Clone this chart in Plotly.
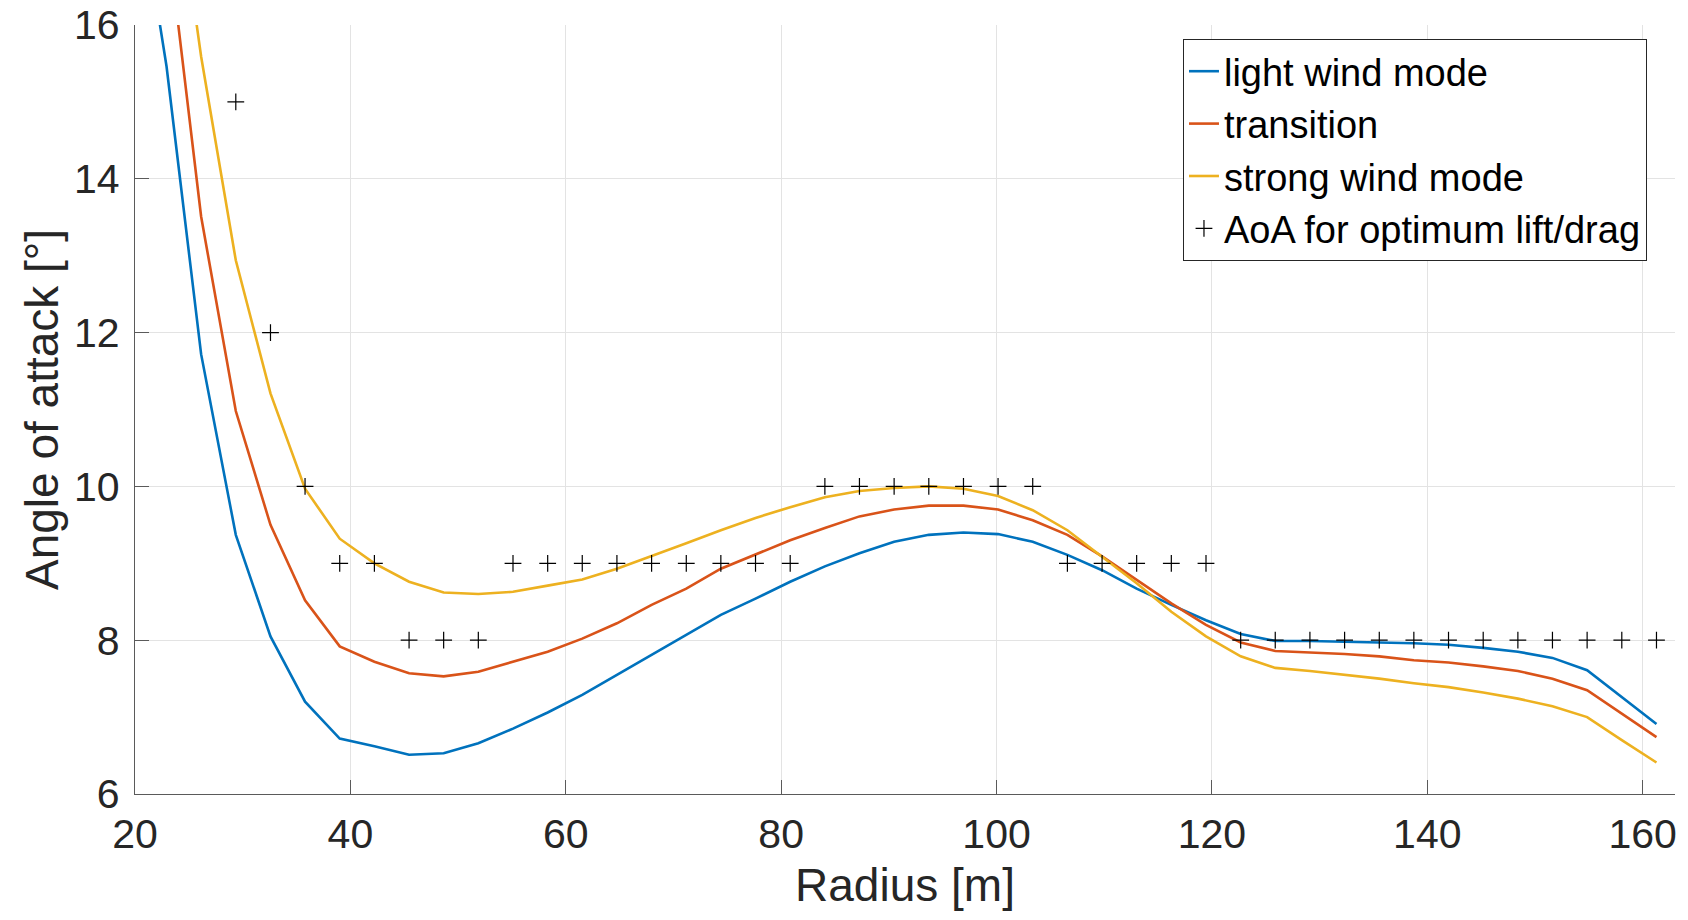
import plotly.graph_objects as go

# Radius grid of the computed curves [m]
radius = [19.72, 22.93, 26.14, 29.36, 32.58, 35.79, 39.01, 42.23, 45.45, 48.66,
          51.88, 55.10, 58.32, 61.53, 64.75, 67.97, 71.19, 74.40, 77.62, 80.84,
          84.06, 87.27, 90.49, 93.71, 96.93, 100.14, 103.36, 106.58, 109.80, 113.01,
          116.23, 119.45, 122.67, 125.88, 129.10, 132.32, 135.54, 138.75, 141.97, 145.19,
          148.41, 151.62, 154.84, 158.06, 161.28]

light_wind = [18.3, 15.46, 11.72, 9.37, 8.05, 7.20, 6.72, 6.62, 6.51, 6.53,
              6.66, 6.85, 7.06, 7.29, 7.55, 7.81, 8.07, 8.33, 8.54, 8.76,
              8.96, 9.13, 9.28, 9.37, 9.40, 9.38, 9.28, 9.11, 8.91, 8.67,
              8.46, 8.26, 8.08, 7.99, 7.99, 7.98, 7.97, 7.96, 7.94, 7.90,
              7.85, 7.77, 7.61, 7.26, 6.91]

transition = [19.5, 17.28, 13.51, 10.98, 9.50, 8.52, 7.92, 7.72, 7.57, 7.53,
              7.59, 7.72, 7.85, 8.02, 8.22, 8.46, 8.67, 8.93, 9.11, 9.30,
              9.46, 9.61, 9.70, 9.75, 9.75, 9.70, 9.56, 9.37, 9.09, 8.78,
              8.48, 8.20, 7.97, 7.86, 7.84, 7.82, 7.79, 7.74, 7.71, 7.66,
              7.60, 7.50, 7.35, 7.05, 6.74]

strong_wind = [21.5, 18.8, 15.59, 12.94, 11.21, 9.97, 9.32, 9.00, 8.76, 8.62,
               8.60, 8.63, 8.71, 8.79, 8.93, 9.09, 9.26, 9.43, 9.59, 9.73,
               9.86, 9.94, 9.98, 10.00, 9.97, 9.875, 9.69, 9.43, 9.09, 8.74,
               8.37, 8.05, 7.79, 7.64, 7.60, 7.55, 7.50, 7.44, 7.39, 7.32,
               7.24, 7.14, 7.00, 6.70, 6.41]

# Angle of attack for optimum lift/drag at each blade section
aoa_radius = [29.36, 32.58, 35.79, 39.01, 42.23, 45.45, 48.66, 51.88, 55.10, 58.32,
              61.53, 64.75, 67.97, 71.19, 74.40, 77.62, 80.84, 84.06, 87.27, 90.49,
              93.71, 96.93, 100.14, 103.36, 106.58, 109.80, 113.01, 116.23, 119.45, 122.67,
              125.88, 129.10, 132.32, 135.54, 138.75, 141.97, 145.19, 148.41, 151.62, 154.84,
              158.06, 161.28]
aoa_opt = [15, 12, 10, 9, 9, 8, 8, 8, 9, 9,
           9, 9, 9, 9, 9, 9, 9, 10, 10, 10,
           10, 10, 10, 10, 9, 9, 9, 9, 9, 8,
           8, 8, 8, 8, 8, 8, 8, 8, 8, 8,
           8, 8]

x_ticks = [20, 40, 60, 80, 100, 120, 140, 160]
y_ticks = [6, 8, 10, 12, 14, 16]

FONT = "Liberation Sans, Arial, Helvetica, sans-serif"
TXT = "#262626"

fig = go.Figure()
for name, vals, col in [("light wind mode", light_wind, "#0072BD"),
                        ("transition", transition, "#D95319"),
                        ("strong wind mode", strong_wind, "#EDB120")]:
    fig.add_trace(go.Scatter(x=radius, y=vals, mode="lines", name=name,
                             line=dict(color=col, width=2.6)))

fig.add_trace(go.Scatter(x=aoa_radius, y=aoa_opt, mode="markers",
                         name="AoA for optimum lift/drag",
                         marker=dict(symbol="cross-thin", size=12, color="black",
                                     line=dict(color="black", width=1.2))))

axis_common = dict(showgrid=True, gridcolor="#e3e3e3", gridwidth=1,
                   showline=True, linecolor="#5a5a5a", linewidth=1.3,
                   ticks="inside", ticklen=14, tickwidth=1.3, tickcolor="#5a5a5a",
                   tickfont=dict(family=FONT, size=41, color=TXT),
                   zeroline=False, mirror=False, automargin=False)

fig.update_xaxes(range=[20, 163], tickvals=x_ticks,
                 title=dict(text="Radius [m]", font=dict(family=FONT, size=46, color=TXT),
                            standoff=12),
                 ticklabelstandoff=4, **axis_common)
fig.update_yaxes(range=[6, 16], tickvals=y_ticks,
                 title=dict(text="Angle of attack [°]", font=dict(family=FONT, size=46, color=TXT),
                            standoff=0),
                 ticklabelstandoff=6, **axis_common)

fig.update_layout(
    width=1688, height=920,
    margin=dict(l=135, r=13, t=25, b=126),
    plot_bgcolor="white", paper_bgcolor="white",
    font=dict(family=FONT, color=TXT),
    legend=dict(x=0.9818, y=0.9818, xanchor="right", yanchor="top",
                bgcolor="white", bordercolor="#262626", borderwidth=1,
                font=dict(family=FONT, size=38, color="black"),
                itemwidth=30, tracegroupgap=0),
    showlegend=True,
)

fig.write_html("out.html")
